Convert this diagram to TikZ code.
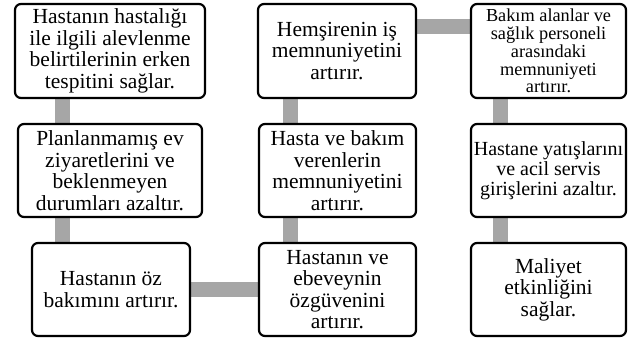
\documentclass[tikz,border=0pt]{standalone}
\usepackage{fontspec}
\setmainfont{Liberation Serif}
\usetikzlibrary{backgrounds}
\definecolor{conngray}{RGB}{166,166,166}
\tikzset{
  box/.style={draw, line width=2.2pt, rounded corners=6pt, fill=white, inner sep=0pt,
    align=center, font=\fontsize{21.5}{21.5}\selectfont},
  conn/.style={draw=conngray, line width=15pt},
}
\begin{document}
\begin{tikzpicture}[x=1pt,y=-1pt]
\useasboundingbox (0,0) rectangle (642,345);
\node[box, minimum width=190pt, minimum height=94pt] (b1) at (110,51)
  {Hastanın hastalığı\\ile ilgili alevlenme\\belirtilerinin erken\\tespitini sağlar.};
\node[box, minimum width=184pt, minimum height=93pt] (b2) at (110,170.5)
  {Planlanmamış ev\\ziyaretlerini ve\\beklenmeyen\\durumları azaltır.};
\node[box, minimum width=158pt, minimum height=93pt] (b3) at (111,289.5)
  {Hastanın öz\\bakımını artırır.};
\node[box, minimum width=157pt, minimum height=93pt] (b4) at (337.5,289.5)
  {Hastanın ve\\ebeveynin\\özgüvenini\\artırır.};
\node[box, minimum width=157pt, minimum height=93pt] (b5) at (337.5,170.5)
  {Hasta ve bakım\\verenlerin\\memnuniyetini\\artırır.};
\node[box, minimum width=158pt, minimum height=94pt] (b6) at (337,51)
  {Hemşirenin iş\\memnuniyetini\\artırır.};
\node[box, minimum width=155pt, minimum height=94pt, font=\fontsize{18.3}{17.8}\selectfont] (b7) at (548.5,51)
  {Bakım alanlar ve\\sağlık personeli\\arasındaki\\memnuniyeti\\artırır.};
\node[box, minimum width=155pt, minimum height=93pt, font=\fontsize{20}{20}\selectfont] (b8) at (548.5,170.5)
  {Hastane yatışlarını\\ve acil servis\\girişlerini azaltır.};
\node[box, minimum width=155pt, minimum height=93pt] (b9) at (548.5,289.5)
  {Maliyet\\etkinliğini\\sağlar.};
\begin{scope}[on background layer]
  \draw[conn] ([xshift=48.5pt]b1.south west) -- ([xshift=45.5pt]b2.north west);
  \draw[conn] ([xshift=45.5pt]b2.south west) -- ([xshift=31.5pt]b3.north west);
  \draw[conn] (b3.east) -- (b4.west);
  \draw[conn] ([xshift=32.5pt]b4.north west) -- ([xshift=32.5pt]b5.south west);
  \draw[conn] ([xshift=32.5pt]b5.north west) -- ([xshift=33.5pt]b6.south west);
  \draw[conn] ([yshift=-23.5pt]b6.north east) -- ([yshift=-23.5pt]b7.north west);
  \draw[conn] ([xshift=31pt]b7.south west) -- ([xshift=31pt]b8.north west);
  \draw[conn] ([xshift=31pt]b8.south west) -- ([xshift=31pt]b9.north west);
\end{scope}
\end{tikzpicture}
\end{document}
